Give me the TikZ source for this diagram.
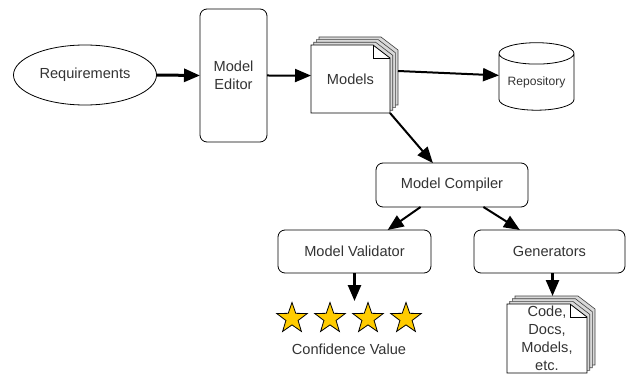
\documentclass[tikz,border=0pt]{standalone}
\usepackage{fontspec}
\setmainfont{Liberation Sans}
\usetikzlibrary{arrows.meta,shapes.geometric}
\definecolor{labelgray}{gray}{0.2}
\definecolor{stargold}{RGB}{255,204,0}
\tikzset{
    every node/.style={text=labelgray, inner sep=0pt, outer sep=0pt, font=\fontsize{14.6}{18}\selectfont},
    processbox/.style={draw, rounded corners=7pt, fill=white, align=center, line width=0.8pt},
    flow/.style={-{Triangle[length=16pt,width=13pt]}, line width=2pt},
    sheet/.style={draw, fill=white, line width=0.8pt},
    backsheet/.style={draw=black!75, fill=black!15, line width=0.6pt},
    ratingstar/.style={star, star points=5, star point ratio=2.5, draw, fill=stargold, minimum size=32pt, line width=0.8pt}
}
% stack of pages with a folded corner: name, left, top, width, height, text
\newcommand{\pagestack}[6]{
    \begin{scope}[shift={(#2,#3)}]
        \foreach \d in {8,5.3,2.7} {
            \draw[backsheet] (\d,-\d) -- ({#4-17+\d},-\d) -- ({#4+\d},{13-\d}) -- ({#4+\d},{#5-\d}) -- (\d,{#5-\d}) -- cycle;
        }
        \draw[sheet] (0,0) -- ({#4-17},0) -- (#4,13) -- (#4,#5) -- (0,#5) -- cycle;
        \draw[line width=0.8pt] ({#4-17},0) -- ({#4-17},13) -- (#4,13);
        \node[minimum width=#4pt, minimum height=#5pt] (#1back) at ({8+#4/2},{#5/2-8}) {};
        \node[minimum width=#4pt, minimum height=#5pt, align=center] (#1) at ({#4/2},{#5/2}) {#6};
    \end{scope}
}

\begin{document}
\begin{tikzpicture}[x=1pt, y=-1pt]
    \useasboundingbox (0,0) rectangle (626,374);

    \node[ellipse, draw, line width=0.8pt, minimum width=143pt, minimum height=60pt] (requirements) at (85,75) {Requirements};
    \node[processbox, minimum width=67pt, minimum height=133pt] (editor) at (233.5,75.5) {Model\\Editor};
    \pagestack{models}{311}{45}{79}{68}{Models}
    \node[cylinder, draw, line width=0.8pt, shape border rotate=90, aspect=0.37, minimum width=75pt, minimum height=67.5pt, font=\fontsize{12.1}{14}\selectfont] (repository) at (536.5,82) {\raisebox{2pt}{Repository}};

    \node[processbox, minimum width=152pt, minimum height=44pt] (compiler) at (452,185) {Model Compiler};
    \node[processbox, minimum width=153pt, minimum height=43pt] (validator) at (354.5,251.5) {Model Validator};
    \node[processbox, minimum width=151pt, minimum height=43pt] (generators) at (549.5,251.5) {Generators};

    \foreach \i/\x in {0/292,1/330,2/368,3/406} {
        \node[ratingstar] (star\i) at (\x,318.5) {};
    }
    \node (confidence) at (349,349) {Confidence Value};
    \coordinate (starstop) at (354.5,301);

    \pagestack{outputs}{507}{304}{80}{69}{Code,\\Docs,\\Models,\\etc.}

    \draw[flow, line width=3pt] (requirements.east) -- (editor.west);
    \draw[flow] (editor.east) -- (models.175);
    \draw[flow] (modelsback.east) -- (repository.170);
    \draw[flow] (models.south east) -- (compiler.131);
    \draw[flow] (compiler.215) -- (validator.33);
    \draw[flow] (compiler.325) -- (generators.144);
    \draw[flow, line width=2.5pt] (validator.south) -- (starstop);
    \draw[flow, line width=2.5pt] (generators.278) -- (outputsback.north -| generators.278);
\end{tikzpicture}
\end{document}
